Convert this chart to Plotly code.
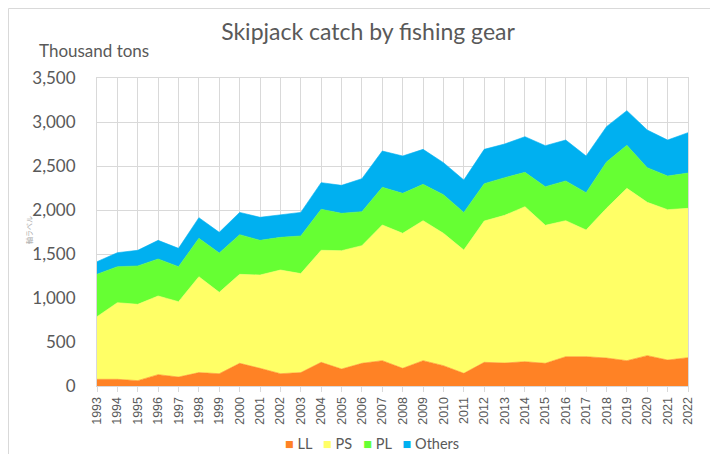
import plotly.graph_objects as go

years = list(range(1993, 2023))
ll = [76, 76, 61, 129, 102, 152, 140, 258, 201, 140, 152, 269, 193, 258, 288,
      201, 288, 231, 144, 269, 261, 276, 258, 333, 333, 318, 288, 345, 295, 322]
ps = [712, 871, 867, 894, 856, 1090, 924, 1011, 1060, 1178, 1125, 1273, 1345, 1337, 1542,
      1534, 1591, 1504, 1401, 1606, 1678, 1762, 1568, 1546, 1440, 1701, 1958, 1742, 1709, 1697]
pl = [481, 409, 436, 420, 398, 436, 447, 451, 394, 371, 428, 466, 424, 386, 428,
      454, 413, 439, 428, 424, 428, 390, 439, 451, 424, 526, 489, 394, 382, 401]
others = [144, 159, 178, 212, 208, 235, 235, 253, 262, 258, 268, 303, 318, 375, 412,
          425, 397, 364, 368, 390, 383, 405, 466, 465, 417, 402, 394, 428, 409, 459]

series = [("LL", ll, "#FF8225"), ("PS", ps, "#FFFF66"), ("PL", pl, "#66FF33"), ("Others", others, "#00B0F0")]

fig = go.Figure()
for name, vals, col in series:
    fig.add_trace(go.Scatter(x=years, y=vals, name=name, stackgroup="one", mode="lines",
                             line=dict(width=0.6, color=col), fillcolor=col, showlegend=False))

gray = "#595959"
grid = "#D9D9D9"
OFF = 8                      # page body margin offset
FW, FH = 718 - OFF, 454 - OFF
L, R, T, B = 97 - OFF, 688 - OFF, 78 - OFF, 386 - OFF
W, H = R - L, B - T

def px_x(p):
    return (p - OFF - L) / W

def px_y(p):
    return (B - (p - OFF)) / H

legend_text = "&nbsp;&nbsp;&nbsp;".join(
    f"<span style='color:{col}'>■</span>&nbsp;{name}" for name, _, col in series)

fig.update_layout(
    width=FW, height=FH,
    margin=dict(l=L, r=FW - R, t=T, b=FH - B, autoexpand=False),
    paper_bgcolor="white", plot_bgcolor="white",
    showlegend=False,
    title=dict(text="Skipjack catch by fishing gear", x=px_x(368), xref="paper", xanchor="center",
               y=1 - (32 - OFF) / FH, yanchor="middle",
               font=dict(family="Lato", size=23, color=gray)),
    xaxis=dict(range=[1993, 2022], tickmode="array", tickvals=years, ticktext=[str(y) for y in years],
               tickangle=-90, tickfont=dict(family="Liberation Sans", size=12.5, color=gray),
               showgrid=True, gridcolor=grid, gridwidth=1, ticks="outside", ticklen=5, tickcolor=grid,
               showline=True, linecolor=grid, mirror=True, zeroline=False, automargin=False),
    yaxis=dict(range=[0, 3500], dtick=500, tickformat=",", tickfont=dict(family="Lato", size=17, color=gray),
               showgrid=True, gridcolor=grid, gridwidth=1, showline=True, linecolor=grid, mirror=True,
               zeroline=False, ticks="", ticklabelstandoff=17, automargin=False),
    annotations=[
        dict(text="Thousand tons", x=px_x(37), y=px_y(50), xref="paper", yref="paper",
             xanchor="left", yanchor="middle", showarrow=False,
             font=dict(family="Lato", size=17, color=gray)),
        dict(text="軸ラベル", x=px_x(29), y=px_y(230), xref="paper", yref="paper",
             xanchor="center", yanchor="middle", showarrow=False, textangle=-90,
             font=dict(family="Noto Sans CJK JP", size=7, color="#A6A6A6")),
        dict(text=legend_text, x=px_x(372), y=px_y(443), xref="paper", yref="paper",
             xanchor="center", yanchor="middle", showarrow=False,
             font=dict(family="Lato", size=14.5, color=gray)),
    ],
    shapes=[dict(type="rect", xref="paper", yref="paper", x0=px_x(8.5), x1=px_x(740), y0=px_y(470),
                 y1=px_y(8.5), line=dict(color=grid, width=1), fillcolor="rgba(0,0,0,0)", layer="below")],
)

fig.write_html("out.html")
